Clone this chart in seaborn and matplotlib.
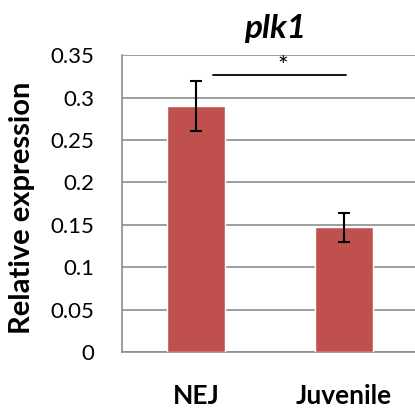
import matplotlib
matplotlib.use("Agg")
import matplotlib.pyplot as plt
import seaborn as sns
import pandas as pd

categories = ["NEJ", "Juvenile"]
values = [0.29, 0.147]
errors = [0.03, 0.017]
yticks = [0, 0.05, 0.1, 0.15, 0.2, 0.25, 0.3, 0.35]
ytick_labels = ["0", "0.05", "0.1", "0.15", "0.2", "0.25", "0.3", "0.35"]
title = "plk1"
ylabel = "Relative expression"
sig_y = 0.3264
sig_x = [0.117, 1.014]

sns.set_theme(style="white")
plt.rcParams['font.family'] = ['Lato', 'DejaVu Sans']
plt.rcParams['text.color'] = 'black'
plt.rcParams['xtick.color'] = 'black'
plt.rcParams['ytick.color'] = 'black'

df = pd.DataFrame({"cat": categories, "val": values})

fig = plt.figure(figsize=(4.15, 4.08), dpi=100)
ax = fig.add_axes([0.294, 0.137, 0.713, 0.728])
sns.barplot(data=df, x="cat", y="val", color="#C0504D", saturation=1,
            width=0.39, errorbar=None, ax=ax, zorder=3)
ax.errorbar(range(len(categories)), values, yerr=errors, fmt="none",
            ecolor="black", elinewidth=1.5, capsize=4, capthick=1.5, zorder=4)

ax.set_xlim(-0.5, 1.5)
ax.set_ylim(0, 0.35)
ax.set_yticks(yticks)
ax.set_yticklabels(ytick_labels, fontsize=16, color="black")
ax.yaxis.grid(True, color="#8c8c8c", linewidth=1.2, zorder=0)
ax.set_axisbelow(True)
ax.tick_params(axis="both", length=0, labelcolor="black")
ax.tick_params(axis="y", pad=20)
ax.tick_params(axis="x", pad=23)
for lab in ax.get_xticklabels():
    lab.set_fontsize(19)
    lab.set_fontweight("bold")
    lab.set_color("black")
for s in ["top", "right"]:
    ax.spines[s].set_visible(False)
for s in ["left", "bottom"]:
    ax.spines[s].set_color("#8c8c8c")
    ax.spines[s].set_linewidth(1.2)
ax.set_xlabel("")
ax.set_ylabel("")
fig.text(22 / 415, 1 - 207.5 / 408, ylabel, rotation=90, ha="center", va="center",
         fontsize=21, fontweight="bold", color="black")
fig.text(275.5 / 415, 1 - 38 / 408, title, ha="center", va="baseline",
         fontsize=24, fontweight="bold", fontstyle="italic", color="black")

ax.plot(sig_x, [sig_y, sig_y], color="black", linewidth=1.3, zorder=5)
ax.text(sum(sig_x) / 2 + 0.02, sig_y - 0.003, "*", ha="center", va="bottom",
        fontsize=18, color="black")

fig.savefig("out.png", dpi=100)
